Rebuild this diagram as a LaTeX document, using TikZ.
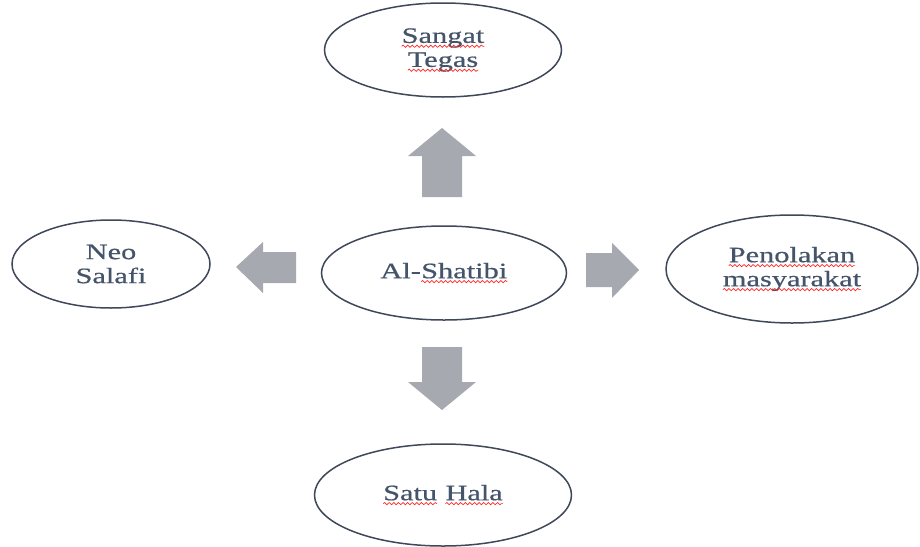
\documentclass[tikz,border=0pt]{standalone}
\usepackage{fontspec}
\setmainfont{Liberation Serif}[FakeStretch=1.38,FakeBold=0.6]
\usetikzlibrary{shapes.geometric,decorations.pathmorphing}
\definecolor{txt}{HTML}{44546A}
\definecolor{edge}{HTML}{3F4859}
\definecolor{arrowgray}{HTML}{A7A9B0}
\newcommand\wavy[1]{\tikz[baseline=(w.base),x=1pt,y=1pt]{\node[shape=rectangle,draw=none,minimum width=0pt,minimum height=0pt,inner sep=0pt,outer sep=0pt,text=txt,align=left](w){#1};\draw[red!85!white,line width=0.7pt,decorate,decoration={snake,amplitude=1.1pt,segment length=4.6pt}] ([yshift=-3.4pt]w.base west) -- ([yshift=-3.4pt]w.base east);}}
\tikzset{
  bubble/.style={ellipse,draw=edge,line width=1.5pt,inner sep=0pt,text=txt,align=center,
    font=\fontsize{22}{24}\selectfont},
  blockarrow/.style={fill=arrowgray,draw=none}
}
\begin{document}
\begin{tikzpicture}[x=1pt,y=-1pt]
\useasboundingbox (0,0) rectangle (920,546);
\fill[white] (0,0) rectangle (920,546);
\node[bubble,minimum width=237pt,minimum height=94pt] (tegas) at (443,50) {\wavy{Sangat}\\\wavy{Tegas}};
\node[bubble,minimum width=198pt,minimum height=88pt] (neo) at (111,264) {Neo\\Salafi};
\node[bubble,minimum width=245pt,minimum height=94pt] (shatibi) at (444,273) {Al-\wavy{Shatibi}};
\node[bubble,minimum width=252pt,minimum height=108pt] (penolakan) at (792,269) {\wavy{Penolakan}\\\wavy{masyarakat}};
\node[bubble,minimum width=257pt,minimum height=102pt] (hala) at (443,495) {\wavy{Satu} \wavy{Hala}};
% up arrow
\fill[blockarrow] (422,197) -- (422,156) -- (408,156) -- (442,128) -- (476,156) -- (462,156) -- (462,197) -- cycle;
% down arrow
\fill[blockarrow] (422,347) -- (422,382) -- (408,382) -- (442,410) -- (476,382) -- (462,382) -- (462,347) -- cycle;
% left arrow
\fill[blockarrow] (296,252) -- (263,252) -- (263,242) -- (236,267) -- (263,293) -- (263,283) -- (296,283) -- cycle;
% right arrow
\fill[blockarrow] (586,253) -- (612,253) -- (612,243) -- (639,270) -- (612,298) -- (612,287) -- (586,287) -- cycle;
\end{tikzpicture}
\end{document}
